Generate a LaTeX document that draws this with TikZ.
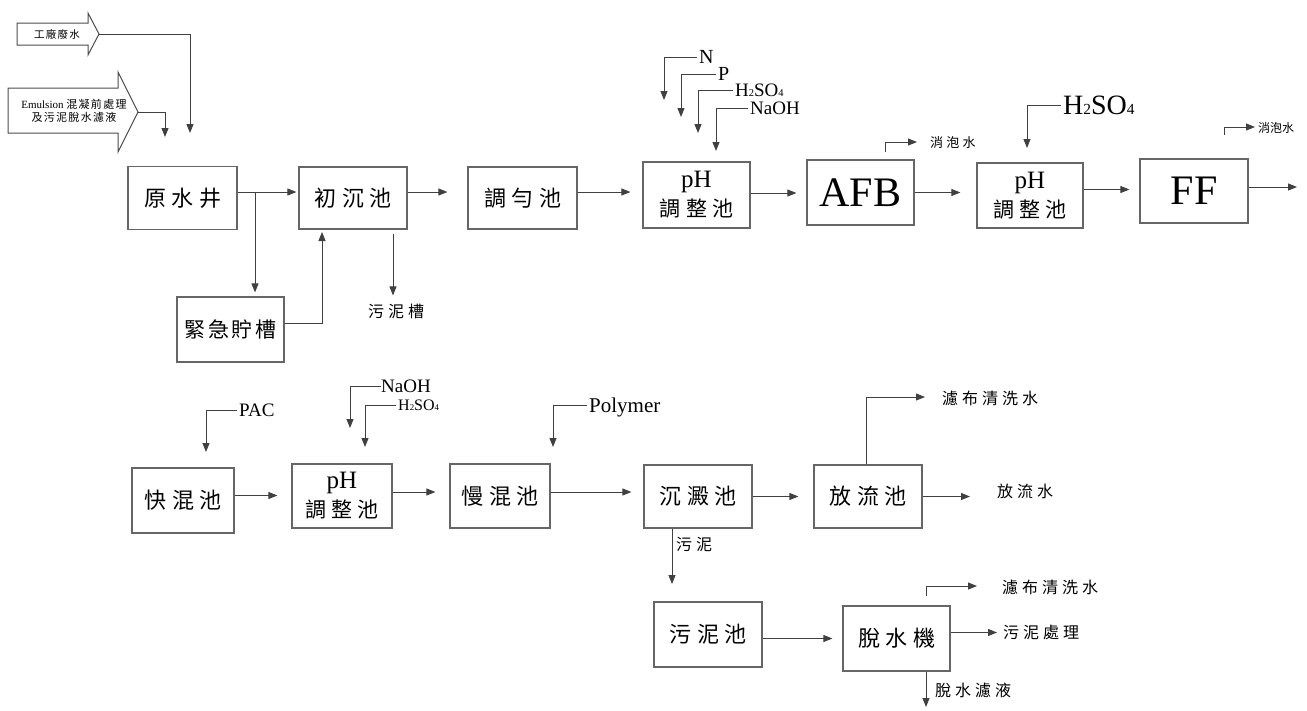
\documentclass[tikz,border=0pt]{standalone}
\usepackage{graphicx}
\usepackage{fontspec}
\setmainfont{Liberation Serif}
\newfontfamily\cjk[LetterSpace=25]{Noto Sans CJK TC}
\newfontfamily\cjkm[LetterSpace=12]{Noto Sans CJK TC}
\newfontfamily\cjkn{Noto Sans CJK TC}
\usetikzlibrary{arrows.meta}
\newcommand\csub[1]{\scalebox{0.55}{#1}}
\newcommand\phtext{{\rmfamily\fontsize{25}{25}\selectfont pH}\\[3pt]{\cjk\fontsize{21}{24}\selectfont 調整池}}
\begin{document}
\begin{tikzpicture}[x=1pt,y=-1pt,
  box/.style={draw=black!60,line width=1.2pt,inner sep=0pt,align=center,font=\cjk\fontsize{22}{26}\selectfont},
  ln/.style={draw=black!75,line width=0.9pt},
  arr/.style={ln,-{Triangle[length=9pt,width=7pt]}},
  lab/.style={inner sep=2pt,text depth=0pt,anchor=west},
  cj/.style={font=\cjk\fontsize{16}{18}\selectfont,inner sep=0pt,anchor=west},
  cjs/.style={font=\cjk\fontsize{13}{15}\selectfont,inner sep=0pt,anchor=west},
  barrow/.style={draw=black!70,line width=1pt,fill=white}]
\useasboundingbox (0,0) rectangle (1307,710);

% ---------- block arrows (inputs) ----------
\draw[barrow] (17,23) -- (88,23) -- (88,13) -- (99,34) -- (88,55) -- (88,45) -- (17,45) -- cycle;
\coordinate (tipA) at (99,34);
\node[font=\cjkm\fontsize{10.5}{12}\selectfont,inner sep=0pt] (inA) at (57,34) {工廠廢水};
\draw[barrow] (8,88) -- (118,88) -- (118,72) -- (138,112) -- (118,152) -- (118,133) -- (8,133) -- cycle;
\coordinate (tipB) at (138,112);
\node[font=\fontsize{11}{12}\selectfont,inner sep=0pt,align=center] (inB) at (74,111)
  {Emulsion {\cjkm 混凝前處理}\\[1pt]{\cjkm 及污泥脫水濾液}};

% ---------- top row boxes ----------
\node[box,minimum width=109pt,minimum height=63pt] (yuan) at (182.5,198) {原水井};
\node[box,minimum width=108pt,minimum height=62pt] (chu) at (353,198) {初沉池};
\node[box,minimum width=109pt,minimum height=62pt] (tiao) at (522.5,198) {調勻池};
\node[box,minimum width=107pt,minimum height=66pt] (ph1) at (696.5,195) {\phtext};
\node[box,minimum width=107pt,minimum height=65pt,font=\fontsize{42}{44}\selectfont] (afb) at (860.5,192.5) {AFB};
\node[box,minimum width=106pt,minimum height=65pt] (ph2) at (1030,195.5) {\phtext};
\node[box,minimum width=108pt,minimum height=64pt,font=\fontsize{42}{44}\selectfont] (ff) at (1194,191) {FF};
\node[box,minimum width=107pt,minimum height=65pt,font=\cjkm\fontsize{21}{24}\selectfont] (jin) at (230.5,329.5) {緊急貯槽};

% inputs to 原水井
\coordinate (inAend) at (190,133);
\coordinate (inBend) at (165,137);
\draw[arr] (tipA) -| (inAend);
\draw[arr] (tipB) -| (inBend);

% top row flow
\coordinate (a1) at ([yshift=6pt]yuan.east);
\draw[arr,shorten >=2pt] (a1) -- (a1 -| chu.west);
\coordinate (j1) at (255,0);
\draw[arr,shorten >=4pt] (a1 -| j1) -- (jin.north -| j1);
\coordinate (chuin) at (322,232);
\draw[arr] ([yshift=6pt]jin.east) -| (chuin);
\coordinate (a2) at ([yshift=6pt]chu.east);
\draw[arr,shorten >=20pt] (a2) -- (a2 -| tiao.west);
\coordinate (a3) at ([yshift=6pt]tiao.east);
\draw[arr,shorten >=12pt] (a3) -- (a3 -| ph1.west);
\coordinate (a4) at ([yshift=2pt]ph1.east);
\draw[arr,shorten >=10pt] (a4) -- (a4 -| afb.west);
\coordinate (a5) at (afb.east);
\draw[arr,shorten >=16pt] (a5) -- (a5 -| ph2.west);
\coordinate (a6) at ([yshift=6pt]ph2.east);
\draw[arr,shorten >=10pt] (a6) -- (a6 -| ff.west);
\coordinate (ffout) at (1297,187);
\draw[arr] (ff.east |- ffout) -- (ffout);

% 污泥槽
\coordinate (wc0) at (393,234);
\node[cj,anchor=center] (wnc) at (396,311) {污泥槽};
\draw[arr,shorten >=8pt] (wc0) -- (wc0 |- wnc.north);

% chemicals into first pH
\node[lab,font=\fontsize{20}{22}\selectfont] (lN) at (697,57) {N};
\coordinate (eN) at (664,100);
\draw[arr] (lN.west) -| (eN);
\node[lab,font=\fontsize{20}{22}\selectfont] (lP) at (716,74) {P};
\coordinate (eP) at (681,117);
\draw[arr] (lP.west) -| (eP);
\node[lab,font=\fontsize{19}{22}\selectfont] (lH1) at (733,90) {H\csub{2}SO\csub{4}};
\coordinate (eH1) at (698,133);
\draw[arr] (lH1.west) -| (eH1);
\node[lab,font=\fontsize{19}{22}\selectfont] (lNa1) at (748,108) {NaOH};
\coordinate (eNa1) at (716,151);
\draw[arr] (lNa1.west) -| (eNa1);

% 消泡水 (AFB)
\coordinate (x1s) at (885,152);
\node[cjs] (x1) at (930,143) {消泡水};
\coordinate (x1e) at (917,142);
\draw[arr] (x1s) |- (x1e);

% H2SO4 into second pH
\node[lab,font=\fontsize{28}{30}\selectfont] (lH2) at (1061,105) {H\csub{2}SO\csub{4}};
\coordinate (eH2) at (1027,148);
\draw[arr] (lH2.west) -| (eH2);

% 消泡水 (FF)
\coordinate (x2s) at (1224,135);
\node[font=\cjkn\fontsize{12}{14}\selectfont,inner sep=0pt,anchor=west] (x2) at (1258,128) {消泡水};
\coordinate (x2e) at (1255,127);
\draw[arr] (x2s) |- (x2e);

% ---------- bottom rows ----------
\node[box,minimum width=102pt,minimum height=65pt] (kuai) at (183,500.5) {快混池};
\node[box,minimum width=100pt,minimum height=64pt] (ph3) at (342,496) {\phtext};
\node[box,minimum width=100pt,minimum height=64pt] (man) at (500,496) {慢混池};
\node[box,minimum width=108pt,minimum height=63pt] (chen) at (698,496.5) {沉澱池};
\node[box,minimum width=108pt,minimum height=63pt] (fang) at (868,496.5) {放流池};
\node[box,minimum width=108pt,minimum height=65pt] (wuni) at (708,634.5) {污泥池};
\node[box,minimum width=107pt,minimum height=65pt] (tuo) at (896.5,638.5) {脫水機};

\coordinate (b1) at ([yshift=5pt]kuai.east);
\draw[arr,shorten >=14pt] (b1) -- (b1 -| ph3.west);
\coordinate (b2) at ([yshift=4pt]ph3.east);
\draw[arr,shorten >=14pt] (b2) -- (b2 -| man.west);
\coordinate (b3) at ([yshift=4pt]man.east);
\draw[arr,shorten >=12pt] (b3) -- (b3 -| chen.west);
\coordinate (b4) at (chen.east);
\draw[arr,shorten >=15pt] (b4) -- (b4 -| fang.west);
\node[cj] (fls) at (997,491) {放流水};
\draw[arr,shorten >=27pt] (fang.east) -- (fang.east -| fls.west);

% 濾布清洗水 (放流池)
\coordinate (fc0) at (866,0);
\node[cj] (lb1) at (942,398) {濾布清洗水};
\coordinate (lb1e) at (925,397);
\draw[arr] (fang.north -| fc0) |- (lb1e);

% chemicals bottom
\node[lab,font=\fontsize{19}{22}\selectfont] (lPAC) at (237,410) {PAC};
\coordinate (ePAC) at (206,452);
\draw[arr] (lPAC.west) -| (ePAC);
\node[lab,font=\fontsize{19}{22}\selectfont,inner sep=0pt] (lNa3) at (381,386) {NaOH};
\coordinate (eNa3) at (350,428);
\draw[arr] (lNa3.west) -| (eNa3);
\node[lab,font=\fontsize{16}{18}\selectfont] (lH3) at (396,405) {H\csub{2}SO\csub{4}};
\coordinate (eH3) at (365,447);
\draw[arr] (lH3.west) -| (eH3);
\node[lab,font=\fontsize{21}{22}\selectfont] (lPol) at (587,405) {Polymer};
\coordinate (ePol) at (553,447);
\draw[arr] (lPol.west) -| (ePol);

% 污泥
\coordinate (sl0) at (672,0);
\node[cj] (wn) at (676,544) {污泥};
\coordinate (sle) at (672,584);
\draw[arr] (chen.south -| sl0) -- (sle);
\coordinate (c1) at ([yshift=-4pt]wuni.east);
\draw[arr,shorten >=10pt] (c1) -- (c1 -| tuo.west);

% outputs of 脫水機
\coordinate (tc0) at (926,596);
\node[cj] (lb2) at (1002,587) {濾布清洗水};
\coordinate (lb2e) at (977,586);
\draw[arr] (tc0) |- (lb2e);
\node[cj] (sp) at (1003,632) {污泥處理};
\draw[arr,shorten >=6pt] ([yshift=6pt]tuo.east) -- ([yshift=6pt]tuo.east -| sp.west);
\coordinate (dw) at (926,707);
\node[cj] (dwl) at (935,690) {脫水濾液};
\draw[arr] (tuo.south -| dw) -- (dw);
\end{tikzpicture}
\end{document}
